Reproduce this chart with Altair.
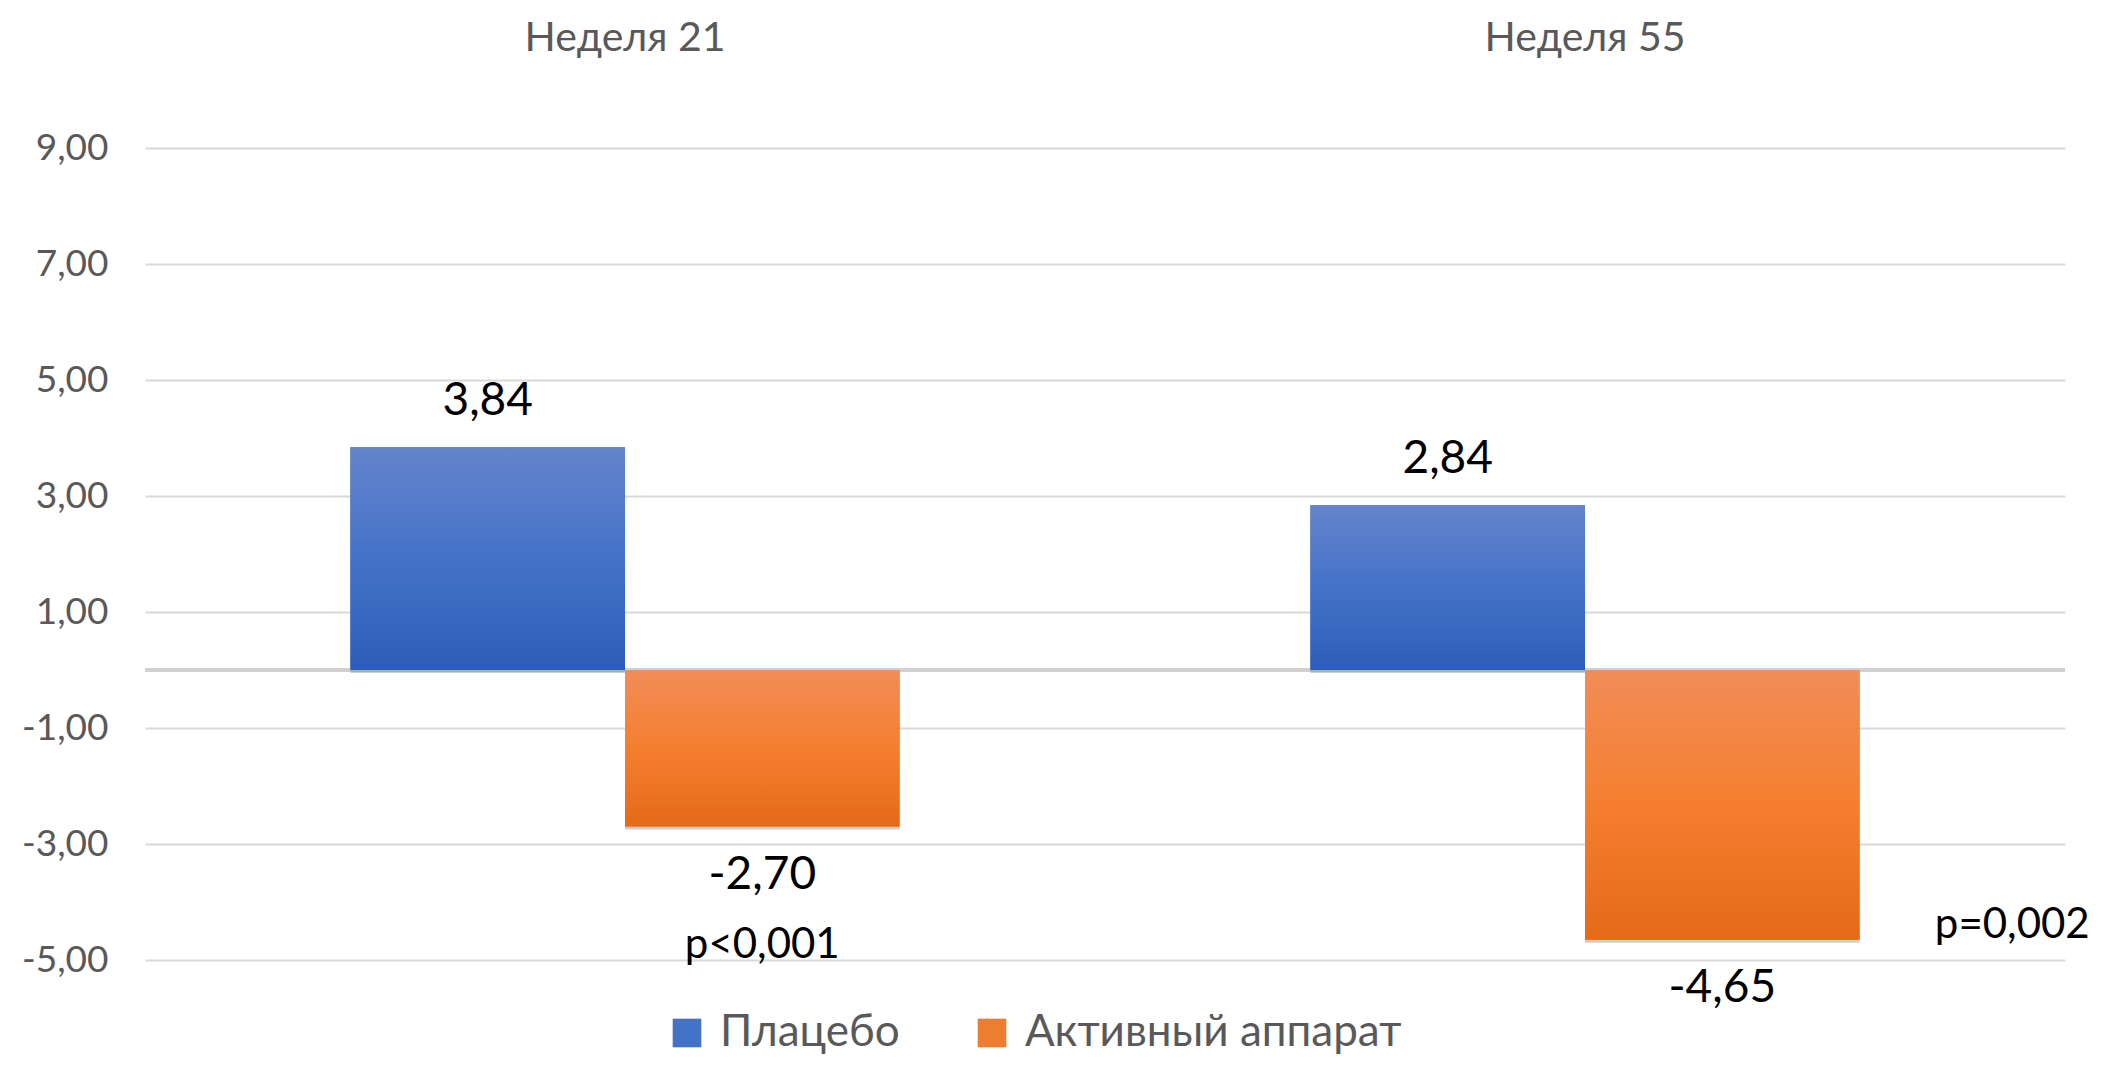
import altair as alt
import pandas as pd

weeks = ["Неделя 21", "Неделя 55"]
series = ["Плацебо", "Активный аппарат"]
placebo = [3.84, 2.84]
active = [-2.70, -4.65]
p_texts = ["p<0,001", "p=0,002"]
p_y = [-4.74, -4.40]
p_dx = [0, 290]
y_ticks = [-5, -3, -1, 1, 3, 5, 7, 9]
solid_colors = ["#4472C4", "#ED7D31"]

rows = []
for i, w in enumerate(weeks):
    rows.append({"week": w, "series": series[0], "value": placebo[i]})
    rows.append({"week": w, "series": series[1], "value": active[i]})
df = pd.DataFrame(rows)

pdf = pd.DataFrame({"week": weeks, "series": [series[1]] * 2, "py": p_y, "txt": p_texts})

FONT = "Lato"
GRAY = "#595959"
fmt = "replace(replace(format(datum.value, '.2f'), '.', ','), '\u2212', '-')"

x_enc = alt.X(
    "week:N", sort=weeks,
    scale=alt.Scale(paddingInner=0.428, paddingOuter=0.214),
    axis=alt.Axis(orient="top", title=None, domain=False, ticks=False, tickSize=0,
                  labelAngle=0, labelFontSize=41, labelColor=GRAY, labelFont=FONT,
                  labelPadding=89, labelLimit=0),
)
xo_enc = alt.XOffset("series:N", sort=series, scale=alt.Scale(paddingInner=0, paddingOuter=0))
y_scale = alt.Scale(domain=[-5, 9], nice=False, zero=False)
y_enc = alt.Y(
    "value:Q", scale=y_scale,
    axis=alt.Axis(values=y_ticks, labelExpr=fmt, title=None, grid=True, gridColor="#D9D9D9",
                  gridWidth=2, domain=False, ticks=False, tickSize=0, labelFontSize=37,
                  labelColor=GRAY, labelFont=FONT, labelPadding=37, labelLimit=0),
)

base = alt.Chart(df)

shadow = base.mark_bar(color="#6F6F6F", opacity=0.35, xOffset=3, x2Offset=3, yOffset=3, y2Offset=3).encode(
    x=x_enc, xOffset=xo_enc, y=y_enc, y2=alt.datum(0)
)

bars_solid = base.mark_bar().encode(
    x=x_enc, xOffset=xo_enc, y=y_enc, y2=alt.datum(0),
    color=alt.Color(
        "series:N", sort=series,
        scale=alt.Scale(domain=series, range=solid_colors),
        legend=alt.Legend(orient="none", legendX=520, legendY=863, direction="horizontal",
                          title=None, symbolType="square", symbolSize=820,
                          symbolStrokeWidth=0, labelFontSize=44, labelColor=GRAY,
                          labelFont=FONT, labelOffset=11, columnPadding=70, labelLimit=0),
    ),
)

def grad(top, mid, bottom):
    return alt.Gradient(
        gradient="linear",
        stops=[alt.GradientStop(color=top, offset=0),
               alt.GradientStop(color=mid, offset=0.5),
               alt.GradientStop(color=bottom, offset=1)],
        x1=0, x2=0, y1=0, y2=1,
    )

grad_blue = base.mark_bar(color=grad("#6484CC", "#4472C8", "#2D5EB7")).encode(
    x=x_enc, xOffset=xo_enc, y=y_enc, y2=alt.datum(0)
).transform_filter(alt.datum.series == series[0])

grad_orange = base.mark_bar(color=grad("#F18D58", "#F57F2F", "#E46A19")).encode(
    x=x_enc, xOffset=xo_enc, y=y_enc, y2=alt.datum(0)
).transform_filter(alt.datum.series == series[1])

zero_rule = base.mark_rule(color="#D0D0D0", strokeWidth=3).encode(y=alt.datum(0))

lbl_pos = base.mark_text(font=FONT, fontSize=46, color="#000000", baseline="middle", dy=-46).encode(
    x=x_enc, xOffset=xo_enc, y=alt.Y("value:Q", scale=y_scale), text="lbl:N"
).transform_filter(alt.datum.value >= 0).transform_calculate(lbl=fmt)

lbl_neg = base.mark_text(font=FONT, fontSize=46, color="#000000", baseline="middle", dy=48).encode(
    x=x_enc, xOffset=xo_enc, y=alt.Y("value:Q", scale=y_scale), text="lbl:N"
).transform_filter(alt.datum.value < 0).transform_calculate(lbl=fmt)

p_layers = []
for i in range(len(weeks)):
    p_layers.append(
        alt.Chart(pdf).mark_text(font=FONT, fontSize=42, color="#000000", baseline="middle", dx=p_dx[i]).encode(
            x=x_enc, xOffset=xo_enc, y=alt.Y("py:Q", scale=y_scale), text="txt:N"
        ).transform_filter(alt.datum.week == weeks[i])
    )

chart = alt.layer(zero_rule, shadow, bars_solid, grad_blue, grad_orange, lbl_pos, lbl_neg, *p_layers).properties(
    width=1920, height=812,
    background="white",
    autosize=alt.AutoSizeParams(type="none"),
    padding={"left": 137, "top": 140, "right": 35, "bottom": 98},
).configure_view(stroke=None)

chart.save("out.html", embed_options={"renderer": "svg", "actions": False})
